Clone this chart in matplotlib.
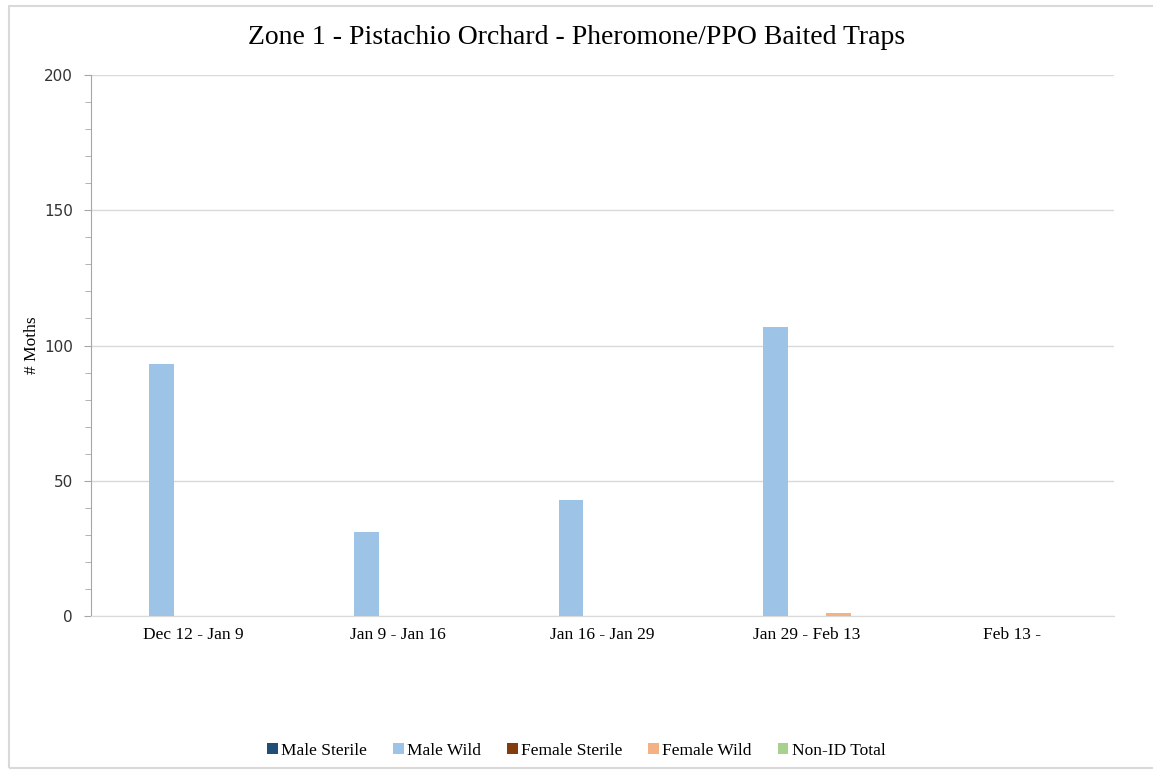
import numpy as np
import matplotlib.pyplot as plt
from matplotlib.patches import Rectangle

# data
periods = ['Dec 12 - Jan 9', 'Jan 9 - Jan 16', 'Jan 16 - Jan 29', 'Jan 29 - Feb 13', 'Feb 13 -']
series_names = ['Male Sterile', 'Male Wild', 'Female Sterile', 'Female Wild', 'Non-ID Total']
male_sterile = [0, 0, 0, 0, 0]
male_wild = [93, 31, 43, 107, 0]
female_sterile = [0, 0, 0, 0, 0]
female_wild = [0, 0, 0, 1, 0]
non_id_total = [0, 0, 0, 0, 0]
colors = ['#1f4e79', '#9dc3e6', '#843c0c', '#f4b183', '#a9d18e']

serif = 'Liberation Serif'

fig = plt.figure(figsize=(11.53, 7.70), dpi=100)
ax = fig.add_axes([91 / 1153, 1 - 616 / 770, (1114 - 91) / 1153, (616 - 75) / 770])

# outer chart border
fig.patches.append(Rectangle((9 / 1153, 2 / 770), 1.2, 1 - 8 / 770, transform=fig.transFigure,
                             fill=False, edgecolor='#d9d9d9', linewidth=1.5))

x = np.arange(len(periods))
step = 0.154
width = 0.122
all_series = [male_sterile, male_wild, female_sterile, female_wild, non_id_total]
for i, (name, vals) in enumerate(zip(series_names, all_series)):
    ax.bar(x + (i - 2) * step, vals, width, color=colors[i], label=name, zorder=3)

ax.set_xlim(-0.5, len(periods) - 0.5)
ax.set_ylim(0, 200)
ax.set_yticks(np.arange(0, 201, 50))
ax.set_yticks(np.arange(0, 201, 10), minor=True)
ax.yaxis.grid(True, color='#d9d9d9', linewidth=1, zorder=0)
ax.set_xticks(x)
ax.set_xticklabels(periods, fontfamily=serif, fontsize=12.5)
ax.tick_params(axis='x', length=0, pad=8)
ax.tick_params(axis='y', which='major', length=5, color='#a6a6a6', labelsize=11, pad=8)
ax.tick_params(axis='y', which='minor', length=4, color='#a6a6a6')
for lbl in ax.get_yticklabels():
    lbl.set_fontfamily('DejaVu Sans')
    lbl.set_color('#333333')
for side in ['top', 'right']:
    ax.spines[side].set_visible(False)
ax.spines['left'].set_color('#a6a6a6')
ax.spines['bottom'].set_color('#d9d9d9')

ax.set_ylabel('# Moths', fontfamily=serif, fontsize=12.5, labelpad=3)
fig.text(0.5, 1 - 38 / 770, 'Zone 1 - Pistachio Orchard - Pheromone/PPO Baited Traps',
         ha='center', va='center', fontfamily=serif, fontsize=20)

fig.legend(loc='center', bbox_to_anchor=(0.5, 1 - 751 / 770), ncol=5, frameon=False,
           prop={'family': serif, 'size': 12.5}, handlelength=0.6, handleheight=0.6,
           handletextpad=0.2, columnspacing=1.5)

fig.savefig('out.png', dpi=100)
